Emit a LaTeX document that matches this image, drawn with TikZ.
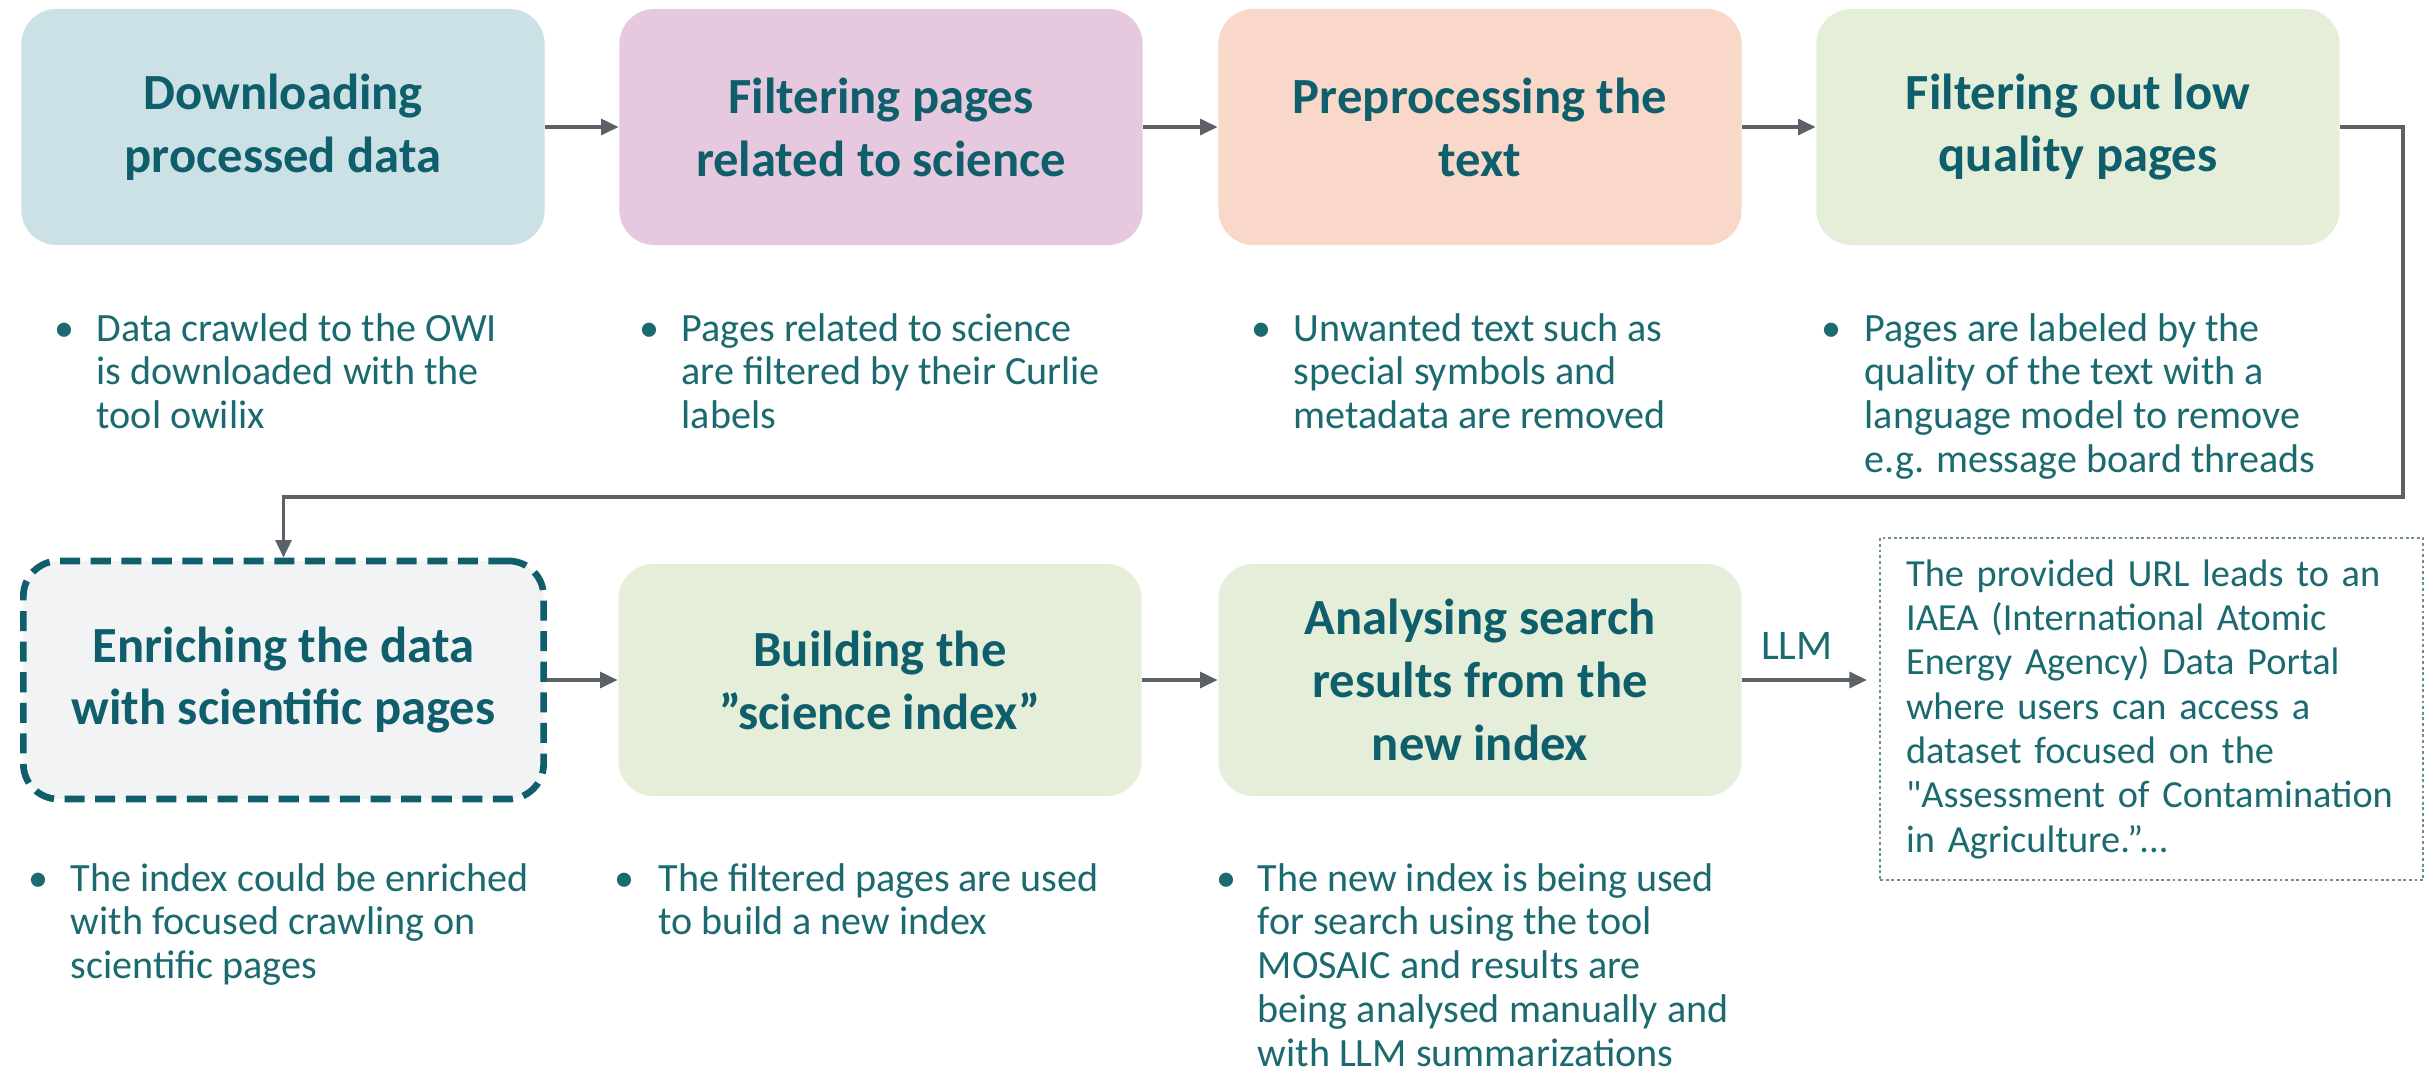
\documentclass[tikz,border=0pt]{standalone}
\usepackage{fontspec}
\setmainfont{Carlito}
\usetikzlibrary{arrows.meta}
\definecolor{tealtext}{HTML}{0F5E6B}
\definecolor{bodytext}{HTML}{1A6A70}
\definecolor{flowgrey}{HTML}{5B6167}
\definecolor{fillblue}{HTML}{CCE1E5}
\definecolor{fillpink}{HTML}{E6C9DE}
\definecolor{fillpeach}{HTML}{F9D8CA}
\definecolor{fillgreen}{HTML}{E5EED9}
\definecolor{fillgrey}{HTML}{F2F3F4}
\definecolor{notegrey}{HTML}{6A8F96}
\tikzstyle{stage}=[rounded corners=10pt, minimum width=5.23cm, minimum height=2.36cm, align=center, text=tealtext, font=\fontsize{14.4}{17.9}\selectfont\bfseries]
\tikzstyle{bstage}=[stage, fill=fillblue]
\tikzstyle{pstage}=[stage, fill=fillpink]
\tikzstyle{ostage}=[stage, fill=fillpeach]
\tikzstyle{gstage}=[stage, fill=fillgreen]
\tikzstyle{dstage}=[stage, fill=fillgrey, draw=tealtext, line width=1.9pt, dash pattern=on 5.7pt off 3pt, minimum width=5.2cm, minimum height=2.38cm]
\tikzstyle{bullets}=[anchor=base west, inner sep=0pt, text=bodytext, font=\fontsize{11.4}{12.5}\selectfont]
\tikzstyle{flow}=[draw=flowgrey, line width=1pt, -{Triangle[length=5pt,width=4.5pt]}]
\tikzstyle{note}=[draw=notegrey, line width=0.6pt, dash pattern=on 0.8pt off 0.8pt, text width=4.91cm, inner xsep=0.26cm, minimum height=3.42cm, align=left, text=bodytext, font=\fontsize{10.9}{12.6}\selectfont]

\begin{document}
\begin{tikzpicture}[x=0.01cm, y=-0.01cm]
    \useasboundingbox (0,0) rectangle (2433,1084);
    \node[bstage] (dl) at (283,127) {Downloading\\processed data};
    \node[pstage] (fp) at (881,127) {Filtering pages\\related to science};
    \node[ostage] (pt) at (1480,127) {Preprocessing the\\text};
    \node[gstage] (fo) at (2078,127) {Filtering out low\\quality pages};
    \node[dstage] (en) at (283.5,680) {Enriching the data\\with scientific pages};
    \node[gstage, minimum height=2.32cm] (bi) at (880,680) {Building the\\”science index”};
    \node[gstage, minimum height=2.32cm] (an) at (1480,680) {Analysing search\\results from the\\new index};
    \node[note, anchor=north west] (reply) at (1879,537) {The provided URL leads to an\\IAEA (International Atomic\\Energy Agency) Data Portal\\where users can access a\\dataset focused on the\\\textquotedbl Assessment of Contamination\\in Agriculture.”...};

    \node[bullets] (dlinfo) at (54,341) {\begin{tabular}[t]{@{}p{4.2mm}@{}l@{}}•&Data crawled to the OWI\\&is downloaded with the\\&tool owilix\end{tabular}};
    \node[bullets] (fpinfo) at (639,341) {\begin{tabular}[t]{@{}p{4.2mm}@{}l@{}}•&Pages related to science\\&are filtered by their Curlie\\&labels\end{tabular}};
    \node[bullets] (ptinfo) at (1251,341) {\begin{tabular}[t]{@{}p{4.2mm}@{}l@{}}•&Unwanted text such as\\&special symbols and\\&metadata are removed\end{tabular}};
    \node[bullets] (foinfo) at (1821,341) {\begin{tabular}[t]{@{}p{4.3mm}@{}l@{}}•&Pages are labeled by the\\&quality of the text with a\\&language model to remove\\&e.g. message board threads\end{tabular}};
    \node[bullets] (eninfo) at (28,891) {\begin{tabular}[t]{@{}p{4.2mm}@{}l@{}}•&The index could be enriched\\&with focused crawling on\\&scientific pages\end{tabular}};
    \node[bullets] (biinfo) at (614,891) {\begin{tabular}[t]{@{}p{4.4mm}@{}l@{}}•&The filtered pages are used\\&to build a new index\end{tabular}};
    \node[bullets] (aninfo) at (1216,891) {\begin{tabular}[t]{@{}p{4.1mm}@{}l@{}}•&The new index is being used\\&for search using the tool\\&MOSAIC and results are\\&being analysed manually and\\&with LLM summarizations\end{tabular}};

    \coordinate (bend) at (2403,497);
    \draw[flow] (dl) -- (fp);
    \draw[flow] (fp) -- (pt);
    \draw[flow] (pt) -- (fo);
    \draw[flow] (fo.east) -| (bend) -| (en.north);
    \draw[flow] (en) -- (bi);
    \draw[flow] (bi) -- (an);
    \draw[flow, shorten >=0.12cm] (an.east) -- (an.east -| reply.west) node[pos=0.4, above=2pt, text=bodytext, font=\fontsize{12}{14}\selectfont] {LLM};
\end{tikzpicture}
\end{document}
